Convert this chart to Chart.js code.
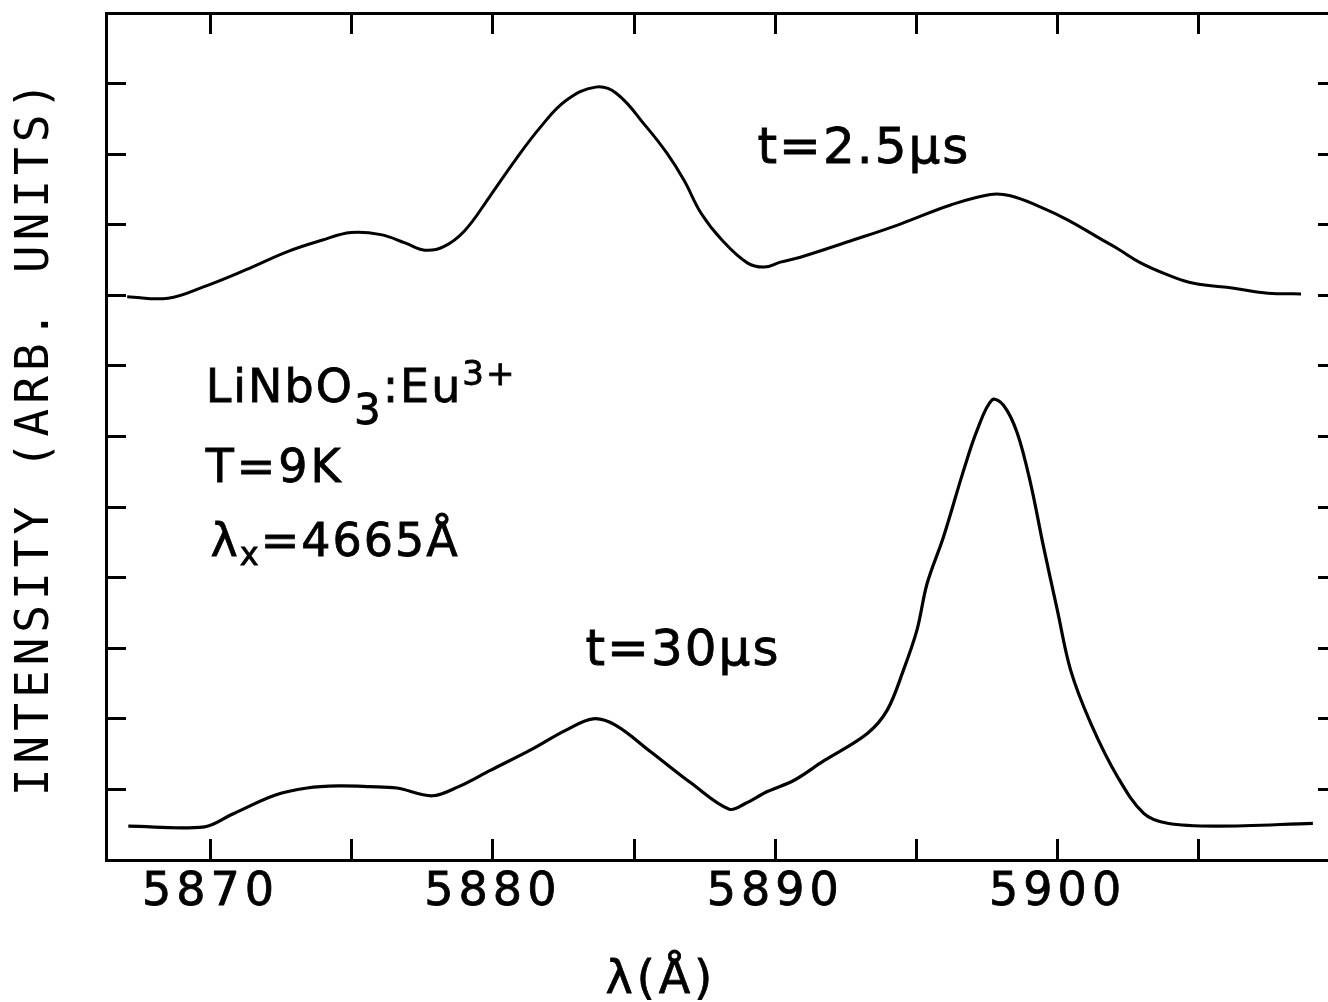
<!DOCTYPE html>
<html lang="en">
  <head>
    <meta charset="UTF-8" />
    <title>LiNbO3:Eu3+ time-resolved emission</title>
    <script src="https://cdn.jsdelivr.net/npm/chart.js"></script>
    <style>
      html,
      body {
        margin: 0;
        padding: 0;
        background: #fff;
        overflow: hidden;
      }
      #wrap {
        width: 1345px;
        height: 1002px;
      }
    </style>
  </head>
  <body>
    <div id="wrap"><canvas id="spectrum" width="1345" height="1002"></canvas></div>

    <script>
      // spectrum at t = 2.5 us (upper trace)
      const lambdaEarly = [
        5867.05, 5868.5, 5869.75, 5871.24, 5872.73, 5873.94, 5874.98, 5876.03,
        5876.91, 5877.59, 5878.26, 5879.01, 5879.89, 5880.8, 5881.7, 5882.59,
        5883.64, 5884.38, 5885.43, 5886.17, 5886.77, 5887.38, 5888.12, 5889.01,
        5889.61, 5890.18, 5890.89, 5892.66, 5894.43, 5896.21, 5897.62, 5898.33,
        5899.4, 5900.35, 5901.52, 5902.13, 5902.94, 5903.9, 5904.82, 5906.24,
        5907.45, 5908.62,
      ];
      const intensityEarly = [
        7.98, 7.96, 8.12, 8.36, 8.62, 8.78, 8.89, 8.86, 8.74, 8.64, 8.69, 8.92,
        9.4, 9.92, 10.39, 10.76, 10.95, 10.86, 10.39, 10.01, 9.63, 9.16, 8.78,
        8.46, 8.4, 8.47, 8.54, 8.77, 9.01, 9.28, 9.43, 9.41, 9.25, 9.07, 8.8,
        8.66, 8.46, 8.29, 8.17, 8.1, 8.03, 8.02,
      ];

      // spectrum at t = 30 us (lower trace)
      const lambdaLate = [
        5867.09, 5869.79, 5870.73, 5872.3, 5873.42, 5874.54, 5875.64, 5876.6,
        5877.85, 5878.79, 5879.91, 5881.34, 5882.59, 5883.55, 5884.34, 5885.6,
        5887.02, 5888.37, 5888.94, 5889.72, 5890.67, 5891.7, 5893.25, 5893.96,
        5894.54, 5895.02, 5895.38, 5895.96, 5896.67, 5897.15, 5897.68, 5898.09,
        5898.57, 5899.04, 5899.5, 5899.99, 5900.46, 5901.17, 5902.12, 5903.05,
        5903.89, 5905.66, 5909.04,
      ];
      const intensityLate = [
        0.48, 0.47, 0.64, 0.92, 1.02, 1.05, 1.04, 1.02, 0.91, 1.04, 1.27, 1.56,
        1.84, 2.0, 1.91, 1.53, 1.09, 0.72, 0.8, 0.97, 1.13, 1.4, 1.79, 2.12,
        2.69, 3.26, 3.92, 4.58, 5.52, 6.09, 6.52, 6.44, 6.05, 5.34, 4.44, 3.54,
        2.69, 1.94, 1.18, 0.66, 0.52, 0.48, 0.52,
      ];

      const xTicks = [5870, 5875, 5880, 5885, 5890, 5895, 5900, 5905];
      const xLabels = [5870, 5880, 5890, 5900];
      const yTicks = [1, 2, 3, 4, 5, 6, 7, 8, 9, 10, 11];

      const FONT = "'DejaVu Sans', sans-serif";
      Chart.defaults.color = "#000";

      const toPoints = (xs, ys) => xs.map((x, i) => ({ x: x, y: ys[i] }));
      const setTicks = (values) => (scale) => {
        scale.ticks = values.map((v) => ({ value: v }));
      };
      const inwardGrid = (len) => ({
        drawOnChartArea: false,
        drawTicks: true,
        tickLength: -len,
        tickWidth: 3,
        tickColor: "#000",
      });
      const frame = { display: true, width: 3, color: "#000" };

      // free text on the plot, anchored in data units
      const notes = [
        { x: 5889.37, y: 9.875, spacing: 2, runs: [["t=2.5μs", 50, 0]] },
        { x: 5883.28, y: 2.76, spacing: 2, runs: [["t=30μs", 50, 0]] },
        {
          x: 5869.83,
          y: 6.49,
          spacing: 2,
          runs: [
            ["LiNbO", 46, 0],
            ["3", 42, 22],
            [":", 46, 0],
            ["Eu", 46, 0],
            ["3+", 34, -17],
          ],
        },
        { x: 5869.83, y: 5.35, spacing: 3, runs: [["T=9K", 46, 0]] },
        {
          x: 5870.0,
          y: 4.31,
          spacing: 2,
          runs: [
            ["λ", 46, 0],
            ["x", 32, 9],
            ["=4665Å", 46, 0],
          ],
        },
      ];

      const spacingPlugin = {
        id: "spacing",
        beforeDraw(chart) {
          chart.ctx.letterSpacing = "5px";
        },
      };

      const notesPlugin = {
        id: "notes",
        afterDraw(chart) {
          const ctx = chart.ctx;
          const xs = chart.scales.x;
          const ys = chart.scales.y;
          ctx.save();
          ctx.fillStyle = "#000";
          ctx.strokeStyle = "#000";
          ctx.lineWidth = 0.8;
          ctx.textAlign = "left";
          ctx.textBaseline = "alphabetic";
          notes.forEach((note) => {
            let px = xs.getPixelForValue(note.x);
            const py = ys.getPixelForValue(note.y);
            ctx.letterSpacing = note.spacing + "px";
            note.runs.forEach(([text, size, dy]) => {
              ctx.font = size + "px " + FONT;
              ctx.fillText(text, px, py + dy);
              ctx.strokeText(text, px, py + dy);
              px += ctx.measureText(text).width;
            });
          });
          // x axis title, set a little left of the frame centre as in the scan
          ctx.letterSpacing = "4px";
          ctx.font = "46px " + FONT;
          ctx.textAlign = "center";
          const tx = xs.getPixelForValue(5885.95);
          ctx.fillText("λ(Å)", tx, chart.height - 9);
          ctx.strokeText("λ(Å)", tx, chart.height - 9);
          ctx.restore();
        },
      };

      new Chart(document.getElementById("spectrum"), {
        type: "line",
        data: {
          datasets: [
            {
              label: "t = 2.5 μs",
              data: toPoints(lambdaEarly, intensityEarly),
              borderColor: "#000",
              borderWidth: 3,
              pointRadius: 0,
              tension: 0.4,
            },
            {
              label: "t = 30 μs",
              data: toPoints(lambdaLate, intensityLate),
              borderColor: "#000",
              borderWidth: 3.2,
              pointRadius: 0,
              tension: 0.35,
            },
          ],
        },
        options: {
          responsive: false,
          animation: false,
          devicePixelRatio: 1,
          layout: { padding: { top: 13, right: 5, bottom: 0, left: 0 } },
          plugins: {
            legend: { display: false },
            tooltip: { enabled: false },
          },
          scales: {
            x: {
              type: "linear",
              position: "bottom",
              min: 5866.3,
              max: 5910,
              afterBuildTicks: setTicks(xTicks),
              afterFit: (s) => {
                s.height = 142;
              },
              ticks: {
                autoSkip: false,
                maxRotation: 0,
                padding: 26,
                font: { family: FONT, size: 46 },
                textStrokeColor: "#000",
                textStrokeWidth: 0.8,
                callback: (v) => (xLabels.includes(v) ? String(v) : ""),
              },
              grid: inwardGrid(21),
              border: frame,
            },
            x2: {
              type: "linear",
              position: "top",
              min: 5866.3,
              max: 5910,
              afterBuildTicks: setTicks(xTicks),
              afterFit: (s) => {
                s.height = 0;
              },
              ticks: { callback: () => "" },
              grid: inwardGrid(21),
              border: frame,
            },
            y: {
              type: "linear",
              position: "left",
              min: 0,
              max: 12,
              afterBuildTicks: setTicks(yTicks),
              afterFit: (s) => {
                s.width = 106;
              },
              ticks: { callback: () => "" },
              grid: inwardGrid(20),
              border: frame,
              title: {
                display: true,
                text: "INTENSITY (ARB. UNITS)",
                font: { family: "'DejaVu Sans Mono', monospace", size: 46 },
                padding: { top: 8, bottom: 0 },
              },
            },
            y2: {
              type: "linear",
              position: "right",
              min: 0,
              max: 12,
              afterBuildTicks: setTicks(yTicks),
              afterFit: (s) => {
                s.width = 0;
              },
              ticks: { callback: () => "" },
              grid: inwardGrid(22),
              border: { display: false },
            },
          },
        },
        plugins: [spacingPlugin, notesPlugin],
      });
    </script>
  </body>
</html>
